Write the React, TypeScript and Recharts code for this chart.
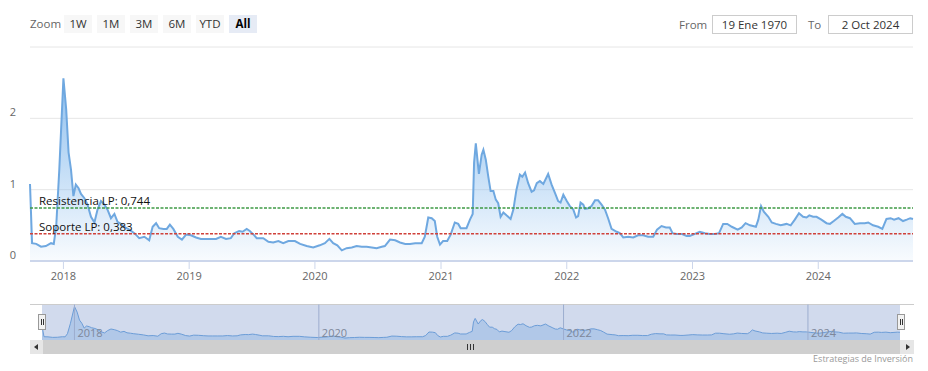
import React from 'react';
import { ComposedChart, AreaChart, Area, XAxis, YAxis, CartesianGrid, ReferenceLine } from 'recharts';

// Weekly-ish readings of the indicator
const dates = [
  '2017-09-26', '2017-10-02', '2017-10-14', '2017-10-28', '2017-11-11', '2017-11-26', '2017-12-04', '2017-12-11', '2017-12-20',
  '2018-01-01', '2018-01-09', '2018-01-16', '2018-01-23', '2018-01-30', '2018-02-06', '2018-02-14', '2018-02-21', '2018-03-03',
  '2018-03-12', '2018-03-22', '2018-04-01', '2018-04-10', '2018-04-20', '2018-04-30', '2018-05-09', '2018-05-19', '2018-05-29',
  '2018-06-07', '2018-06-17', '2018-06-27', '2018-07-11', '2018-07-26', '2018-08-09', '2018-08-24', '2018-09-07', '2018-09-17',
  '2018-09-27', '2018-10-06', '2018-10-18', '2018-10-28', '2018-11-06', '2018-11-16', '2018-11-29', '2018-12-11', '2018-12-23',
  '2019-01-06', '2019-01-21', '2019-02-04', '2019-02-18', '2019-03-05', '2019-03-20', '2019-04-03', '2019-04-18', '2019-05-02',
  '2019-05-12', '2019-05-26', '2019-06-05', '2019-06-17', '2019-06-26', '2019-07-09', '2019-07-16', '2019-08-04', '2019-08-19',
  '2019-09-02', '2019-09-17', '2019-10-01', '2019-10-16', '2019-11-04', '2019-11-19', '2019-12-08', '2019-12-27',
  '2020-01-15', '2020-01-30', '2020-02-12', '2020-02-23', '2020-03-06', '2020-03-19', '2020-04-02', '2020-04-17', '2020-05-01',
  '2020-05-16', '2020-05-30', '2020-06-14', '2020-06-28', '2020-07-13', '2020-07-22', '2020-08-06', '2020-08-21', '2020-09-04',
  '2020-09-19', '2020-10-03', '2020-10-18', '2020-11-06', '2020-11-15', '2020-11-25', '2020-12-05', '2020-12-14', '2020-12-21',
  '2020-12-29',
  '2021-01-07', '2021-01-19', '2021-01-29', '2021-02-10', '2021-02-20', '2021-02-27', '2021-03-16', '2021-03-26', '2021-04-03',
  '2021-04-07', '2021-04-12', '2021-04-21', '2021-04-29', '2021-05-04', '2021-05-11', '2021-05-18', '2021-05-25', '2021-06-02',
  '2021-06-09', '2021-06-16', '2021-06-23', '2021-07-01', '2021-07-10', '2021-07-22', '2021-07-30', '2021-08-08', '2021-08-18',
  '2021-08-25', '2021-09-02', '2021-09-11', '2021-09-21', '2021-09-28', '2021-10-06', '2021-10-15', '2021-10-25', '2021-11-08',
  '2021-11-18', '2021-11-28', '2021-12-07', '2021-12-14', '2021-12-22',
  '2022-01-01', '2022-01-10', '2022-01-20', '2022-01-28', '2022-02-03', '2022-02-10', '2022-02-18', '2022-02-23', '2022-03-04',
  '2022-03-14', '2022-03-24', '2022-04-02', '2022-04-12', '2022-04-22', '2022-05-01', '2022-05-11', '2022-05-26', '2022-06-04',
  '2022-06-14', '2022-06-28', '2022-07-13', '2022-07-27', '2022-08-11', '2022-08-25', '2022-09-09', '2022-09-20', '2022-10-03',
  '2022-10-16', '2022-10-27', '2022-11-04', '2022-11-16', '2022-11-30', '2022-12-15', '2022-12-24',
  '2023-01-08', '2023-01-22', '2023-02-06', '2023-02-20', '2023-03-07', '2023-03-19', '2023-03-31', '2023-04-12', '2023-04-25',
  '2023-05-12', '2023-05-24', '2023-06-04', '2023-06-17', '2023-07-04', '2023-07-11', '2023-07-19', '2023-07-27', '2023-08-09',
  '2023-08-19', '2023-08-31', '2023-09-14', '2023-10-01', '2023-10-13', '2023-10-25', '2023-11-06', '2023-11-18', '2023-11-28',
  '2023-12-06', '2023-12-17', '2023-12-27',
  '2024-01-10', '2024-01-25', '2024-02-04', '2024-02-15', '2024-02-28', '2024-03-11', '2024-03-21', '2024-04-02', '2024-04-16',
  '2024-05-01', '2024-05-15', '2024-05-25', '2024-06-08', '2024-06-23', '2024-07-05', '2024-07-17', '2024-07-29', '2024-08-08',
  '2024-08-21', '2024-09-03', '2024-09-14', '2024-09-24', '2024-10-02',
];

const values = [
  1.08, 0.25, 0.24, 0.20, 0.21, 0.25, 0.24, 0.48, 1.28,
  2.56, 2.13, 1.52, 1.28, 0.91, 1.07, 1.02, 0.94, 0.88,
  0.79, 0.62, 0.54, 0.72, 0.84, 0.79, 0.72, 0.60, 0.66,
  0.55, 0.52, 0.48, 0.44, 0.39, 0.32, 0.34, 0.29, 0.48,
  0.53, 0.46, 0.45, 0.45, 0.51, 0.45, 0.34, 0.30, 0.37,
  0.36, 0.33, 0.31, 0.31, 0.31, 0.31, 0.34, 0.31, 0.32,
  0.39, 0.42, 0.41, 0.45, 0.42, 0.36, 0.32, 0.32, 0.27,
  0.26, 0.28, 0.25, 0.28, 0.28, 0.24, 0.21, 0.19,
  0.22, 0.25, 0.31, 0.25, 0.22, 0.15, 0.18, 0.19, 0.21,
  0.20, 0.20, 0.19, 0.18, 0.20, 0.21, 0.30, 0.29, 0.26,
  0.24, 0.24, 0.25, 0.25, 0.34, 0.61, 0.60, 0.56, 0.34,
  0.23,
  0.28, 0.28, 0.37, 0.54, 0.52, 0.46, 0.46, 0.58, 0.66,
  1.38, 1.65, 1.22, 1.49, 1.56, 1.42, 1.19, 0.98, 0.98,
  0.86, 0.81, 0.62, 0.68, 0.64, 0.59, 0.72, 1.00, 1.21,
  1.18, 1.24, 1.09, 0.97, 0.99, 1.09, 1.12, 1.08, 1.22,
  1.07, 0.95, 0.84, 0.82, 0.93,
  0.84, 0.77, 0.72, 0.61, 0.63, 0.82, 0.79, 0.73, 0.74,
  0.77, 0.85, 0.85, 0.79, 0.72, 0.60, 0.45, 0.41, 0.39,
  0.33, 0.34, 0.33, 0.36, 0.36, 0.34, 0.34, 0.44, 0.49,
  0.47, 0.47, 0.39, 0.38, 0.38, 0.35, 0.35,
  0.38, 0.41, 0.39, 0.38, 0.38, 0.39, 0.52, 0.52, 0.48,
  0.44, 0.47, 0.53, 0.50, 0.48, 0.58, 0.77, 0.69, 0.62,
  0.54, 0.52, 0.50, 0.52, 0.50, 0.58, 0.67, 0.62, 0.61,
  0.64, 0.62, 0.62,
  0.58, 0.53, 0.52, 0.56, 0.61, 0.66, 0.62, 0.60, 0.52,
  0.53, 0.53, 0.54, 0.50, 0.48, 0.45, 0.59, 0.60, 0.58,
  0.60, 0.56, 0.58, 0.60, 0.59,
];

const yearTicks = ['2018-01-01', '2019-01-01', '2020-01-01', '2021-01-01', '2022-01-01', '2023-01-01', '2024-01-01'];
const yearLabels = ['2018', '2019', '2020', '2021', '2022', '2023', '2024'];
const navigatorTicks = ['2018-01-01', '2020-01-01', '2022-01-01', '2024-01-01'];
const navigatorLabels = ['2018', '2020', '2022', '2024'];
const yTicks = [0, 1, 2, 3];

const resistance = 0.744;
const resistanceLabel = 'Resistencia LP: 0,744';
const support = 0.383;
const supportLabel = 'Soporte LP: 0,383';

const zoomButtons = ['1W', '1M', '3M', '6M', 'YTD', 'All'];
const selectedZoom = 'All';
const fromDate = '19 Ene 1970';
const toDate = '2 Oct 2024';
const credit = 'Estrategias de Inversión';

const font = "'Open Sans', 'DejaVu Sans', sans-serif";

const data = dates.map((d, i) => ({ t: Date.parse(d), v: values[i] }));
const tickTimes = yearTicks.map((d) => Date.parse(d));
const startT = data[0].t;
const endT = data[data.length - 1].t;

const renderYTick = (props: any) => {
  const { y, payload } = props;
  if (payload.value === 3) return <g />;
  return (
    <text x={16} y={y - 2} textAnchor="end" fontSize={11} fill="#666" fontFamily={font}>
      {payload.value}
    </text>
  );
};

const plotLineLabel = (text: string) => (props: any) => {
  const vb = props.viewBox || {};
  return (
    <text x={vb.x + 9} y={vb.y - 3} fontSize={11.5} fill="#111" fontFamily={font}>
      {text}
    </text>
  );
};

const App: React.FC = () => {
  return (
    <div style={{ position: 'absolute', left: 0, top: 0, width: 928, height: 371, background: '#fff', fontFamily: font, overflow: 'hidden' }}>
      {/* Range selector */}
      <div style={{ position: 'absolute', left: 30, top: 15, height: 18, lineHeight: '18px', fontSize: 11.5, color: '#666' }}>Zoom</div>
      <div style={{ position: 'absolute', left: 64, top: 15, display: 'flex', gap: 5 }}>
        {zoomButtons.map((b) => (
          <div
            key={b}
            style={{
              width: 28,
              height: 18,
              lineHeight: '18px',
              textAlign: 'center',
              fontSize: 11.5,
              background: b === selectedZoom ? '#e6ebf5' : '#f7f7f7',
              color: b === selectedZoom ? '#000' : '#333',
              fontWeight: b === selectedZoom ? 700 : 400,
            }}
          >
            {b}
          </div>
        ))}
      </div>
      <div style={{ position: 'absolute', left: 679, top: 15, height: 19, lineHeight: '19px', fontSize: 11.5, color: '#666' }}>From</div>
      <div style={{ position: 'absolute', left: 712, top: 15, width: 83, height: 17, lineHeight: '17px', border: '1px solid #ccc', textAlign: 'center', fontSize: 11.5, color: '#333' }}>{fromDate}</div>
      <div style={{ position: 'absolute', left: 808, top: 15, height: 19, lineHeight: '19px', fontSize: 11.5, color: '#666' }}>To</div>
      <div style={{ position: 'absolute', left: 828, top: 15, width: 83, height: 17, lineHeight: '17px', border: '1px solid #ccc', textAlign: 'center', fontSize: 11.5, color: '#333' }}>{toDate}</div>

      {/* Main chart */}
      <div style={{ position: 'absolute', left: 0, top: 0 }}>
        <ComposedChart width={928} height={300} data={data} margin={{ top: 47, right: 15, bottom: 0, left: 0 }}>
          <defs>
            <linearGradient id="areaFill" x1="0" y1="79" x2="0" y2="261" gradientUnits="userSpaceOnUse">
              <stop offset="0%" stopColor="#7cb5ec" stopOpacity={0.85} />
              <stop offset="100%" stopColor="#7cb5ec" stopOpacity={0.05} />
            </linearGradient>
          </defs>
          <CartesianGrid horizontal vertical={false} stroke="#e6e6e6" />
          <XAxis
            dataKey="t"
            type="number"
            scale="time"
            domain={[startT, endT]}
            ticks={tickTimes}
            interval={0}
            tickFormatter={(t: number) => yearLabels[tickTimes.indexOf(t)]}
            axisLine={{ stroke: '#ccd6eb', strokeWidth: 2 }}
            tickLine={{ stroke: '#ccd6eb' }}
            tickSize={8}
            tickMargin={3}
            height={39}
            tick={{ fill: '#666', fontSize: 11, fontFamily: font }}
          />
          <YAxis domain={[0, 3]} ticks={yTicks} interval={0} width={30} axisLine={false} tickLine={false} tick={renderYTick} />
          <Area
            type="linear"
            dataKey="v"
            stroke="#6fa8e0"
            strokeWidth={2}
            fill="url(#areaFill)"
            fillOpacity={1}
            dot={false}
            activeDot={false}
            isAnimationActive={false}
          />
          <ReferenceLine y={resistance} stroke="#3f9a46" strokeWidth={1.5} strokeDasharray="3 1.5" label={plotLineLabel(resistanceLabel)} />
          <ReferenceLine y={support} stroke="#d0413a" strokeWidth={1.5} strokeDasharray="3 1.5" label={plotLineLabel(supportLabel)} />
        </ComposedChart>
      </div>

      {/* Navigator */}
      <div style={{ position: 'absolute', left: 30, top: 304, width: 884, height: 1, background: '#ccc' }} />
      <div style={{ position: 'absolute', left: 42, top: 304 }}>
        <AreaChart width={858} height={36} data={data} margin={{ top: 0, right: 0, bottom: 0, left: 0 }}>
          <XAxis dataKey="t" type="number" scale="time" domain={[startT, endT]} hide />
          <YAxis domain={[0, 2.75]} hide />
          {navigatorTicks.map((d, i) => (
            <ReferenceLine
              key={d}
              x={Date.parse(d)}
              stroke="#b4bfd4"
              label={{ value: navigatorLabels[i], position: 'insideBottomLeft', offset: 3, fill: '#888', fontSize: 11, fontFamily: font }}
            />
          ))}
          <Area
            type="linear"
            dataKey="v"
            stroke="#6fa8e0"
            strokeWidth={1}
            fill="#7cb5ec"
            fillOpacity={0.35}
            dot={false}
            activeDot={false}
            isAnimationActive={false}
          />
        </AreaChart>
      </div>
      <div style={{ position: 'absolute', left: 42, top: 305, width: 858, height: 35, background: 'rgba(102,133,194,0.3)' }} />
      {/* navigator handles */}
      {[38, 897].map((x) => (
        <div key={x} style={{ position: 'absolute', left: x, top: 314, width: 6, height: 14, background: '#f2f2f2', border: '1px solid #999' }}>
          <div style={{ position: 'absolute', left: 2, top: 4, width: 1, height: 6, background: '#333' }} />
          <div style={{ position: 'absolute', left: 4, top: 4, width: 1, height: 6, background: '#333' }} />
        </div>
      ))}

      {/* Scrollbar */}
      <div style={{ position: 'absolute', left: 30, top: 340, width: 884, height: 14, background: '#cfcfcf' }} />
      <div style={{ position: 'absolute', left: 30, top: 340, width: 13, height: 14, background: '#e6e6e6', borderRight: '1px solid #cfcfcf' }}>
        <div style={{ position: 'absolute', left: 4, top: 4, width: 0, height: 0, borderTop: '3px solid transparent', borderBottom: '3px solid transparent', borderRight: '4px solid #333' }} />
      </div>
      <div style={{ position: 'absolute', left: 900, top: 340, width: 14, height: 14, background: '#e6e6e6' }}>
        <div style={{ position: 'absolute', left: 6, top: 4, width: 0, height: 0, borderTop: '3px solid transparent', borderBottom: '3px solid transparent', borderLeft: '4px solid #333' }} />
      </div>
      {[467, 470, 473].map((x) => (
        <div key={x} style={{ position: 'absolute', left: x, top: 344, width: 1, height: 6, background: '#333' }} />
      ))}

      {/* Credit */}
      <div style={{ position: 'absolute', right: 15, top: 353, fontSize: 9, color: '#999', lineHeight: '12px' }}>{credit}</div>
    </div>
  );
};

export default App;
